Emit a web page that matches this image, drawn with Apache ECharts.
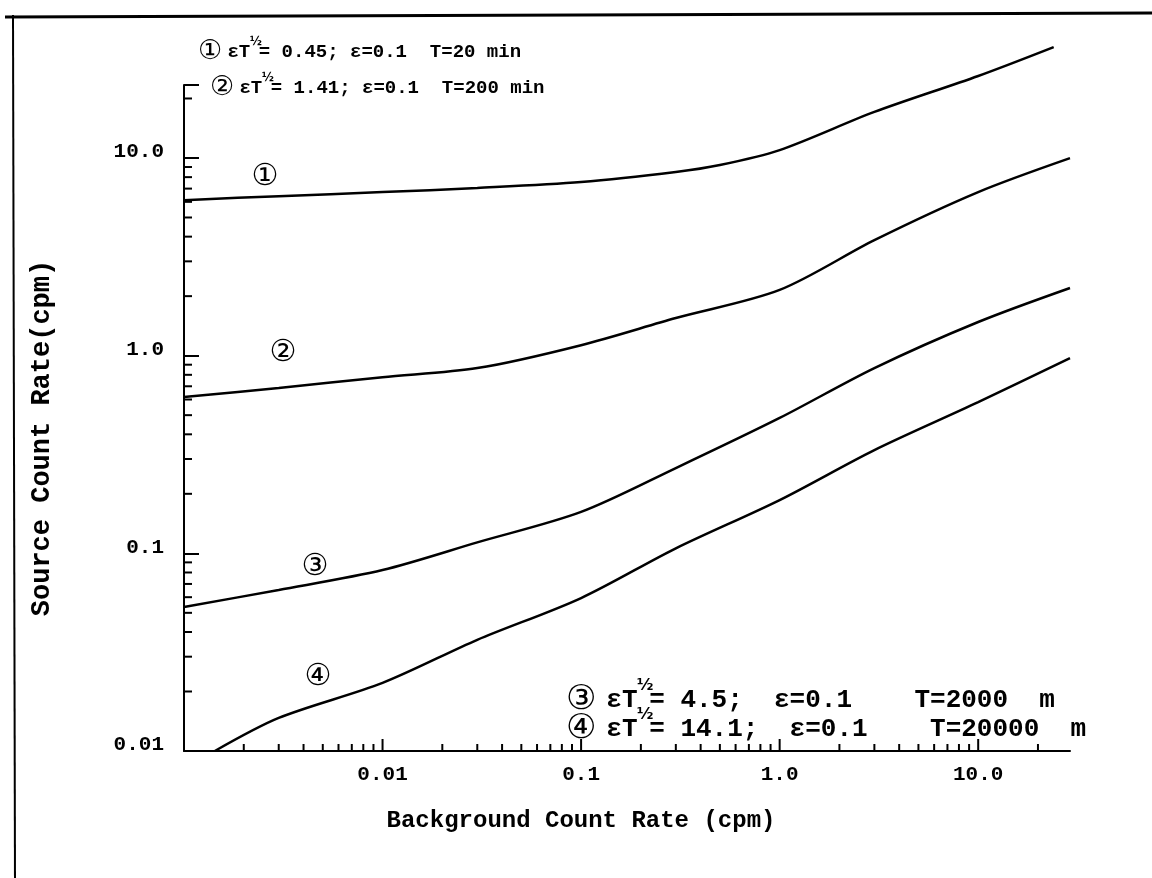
<!DOCTYPE html>
<html>
<head>
<meta charset="utf-8">
<script src="https://cdn.jsdelivr.net/npm/echarts@6/dist/echarts.min.js"></script>
<style>
html, body { margin: 0; padding: 0; background: #fff; }
#chart { width: 1152px; height: 878px; }
</style>
</head>
<body>
<div id="chart"></div>
<script>
// background count rate (cpm)
var bg1 = [0.001, 0.003, 0.01, 0.03, 0.1, 0.3, 0.5, 1, 3, 10, 24];
var src1 = [6.12, 6.41, 6.72, 7.05, 7.55, 8.49, 9.21, 10.96, 17.1, 26.0, 36.4];

var bg2 = [0.001, 0.003, 0.01, 0.03, 0.1, 0.3, 1, 3, 10, 29];
var src2 = [0.618, 0.686, 0.778, 0.865, 1.13, 1.55, 2.15, 3.84, 6.72, 9.98];

var bg3 = [0.001, 0.003, 0.01, 0.03, 0.1, 0.3, 1, 3, 10, 29];
var src3 = [0.0535, 0.0653, 0.0823, 0.1136, 0.162, 0.270, 0.484, 0.865, 1.48, 2.20];

var bg4 = [0.00143, 0.003, 0.01, 0.03, 0.1, 0.3, 1, 3, 10, 29];
var src4 = [0.01, 0.0147, 0.0221, 0.0365, 0.0594, 0.106, 0.186, 0.333, 0.582, 0.972];

var xTickValues = [0.01, 0.1, 1, 10];
var xTickLabels = ['0.01', '0.1', '1.0', '10.0'];
var yTickValues = [0.01, 0.1, 1, 10];
var yTickLabels = ['0.01', '0.1', '1.0', '10.0'];

var xMin = 0.001, xMax = 29;
var yMin = 0.01, yMax = 23.4;

// minor ticks 2..9 in every decade
function minorTicks(lo, hi) {
    var out = [];
    for (var d = lo; d < hi; d *= 10) {
        for (var m = 2; m <= 9; m++) {
            var v = m * d;
            if (v < hi) out.push(v);
        }
    }
    return out;
}
var xMinor = minorTicks(0.001, xMax);
var yMinor = minorTicks(0.01, yMax);

function pick(values, labels) {
    return function (v) {
        for (var i = 0; i < values.length; i++) {
            if (Math.abs(Math.log10(v) - Math.log10(values[i])) < 1e-6) return labels[i];
        }
        return '';
    };
}

function zip(a, b) {
    var out = [];
    for (var i = 0; i < a.length; i++) out.push([a[i], b[i]]);
    return out;
}

var mono = '"Liberation Mono", "DejaVu Sans Mono", monospace';

function curve(name, xs, ys) {
    return {
        name: name,
        type: 'line',
        data: zip(xs, ys),
        smooth: 0.3,
        symbol: 'none',
        clip: false,
        lineStyle: { color: '#000', width: 2.5 }
    };
}

// tick marks on the x axis, pointing up into the plot
function xTicks(values, len) {
    return {
        type: 'custom',
        silent: true,
        clip: false,
        data: values.map(function (v) { return [v, yMin]; }),
        renderItem: function (params, api) {
            var p = api.coord([api.value(0), yMin]);
            return { type: 'line', shape: { x1: p[0], y1: p[1], x2: p[0], y2: p[1] - len }, style: { stroke: '#000', lineWidth: 2 } };
        }
    };
}

// one typed line: circled number, "eT", raised 1/2, rest
function note(x, y, size, circ, rest) {
    return {
        type: 'group',
        x: x,
        y: y,
        children: [
            { type: 'text', x: 0, y: 0, style: { text: circ, fontFamily: '"DejaVu Sans"', fontSize: size + 8, fill: '#000', verticalAlign: 'middle' } },
            { type: 'text', x: size * 1.55, y: 0, style: { text: 'εT', fontFamily: mono, fontWeight: 'bold', fontSize: size, fill: '#000', verticalAlign: 'middle' } },
            { type: 'text', x: size * 2.72, y: -size * 0.55, style: { text: '½', fontFamily: '"DejaVu Sans"', fontWeight: 'bold', fontSize: size * 0.62, fill: '#000', verticalAlign: 'middle' } },
            { type: 'text', x: size * 3.2, y: 0, style: { text: rest, fontFamily: mono, fontWeight: 'bold', fontSize: size, fill: '#000', verticalAlign: 'middle' } }
        ]
    };
}

function label(x, y, circ) {
    return {
        type: 'text',
        x: x,
        y: y,
        style: {
            text: circ,
            fontFamily: '"DejaVu Sans"',
            fontSize: 30,
            fill: '#000',
            align: 'center',
            verticalAlign: 'middle'
        }
    };
}

var myChart = echarts.init(document.getElementById('chart'));

var option = {
    backgroundColor: '#fff',
    animation: false,
    grid: { left: 184, right: 82, top: 85, bottom: 127 },
    xAxis: {
        type: 'log',
        min: xMin,
        max: xMax,
        name: 'Background Count Rate (cpm)',
        nameLocation: 'middle',
        nameGap: 58,
        nameTextStyle: { fontFamily: mono, fontWeight: 'bold', fontSize: 24, color: '#000', padding: [0, 92, 0, 0] },
        axisLine: { lineStyle: { color: '#000', width: 2 } },
        axisTick: { show: false },
        axisLabel: {
            formatter: pick(xTickValues, xTickLabels),
            fontFamily: mono, fontWeight: 'bold', fontSize: 21, color: '#000', margin: 13
        },
        splitLine: { show: false }
    },
    yAxis: {
        type: 'log',
        min: yMin,
        max: yMax,
        name: 'Source Count Rate(cpm)',
        nameLocation: 'middle',
        nameGap: 128,
        nameTextStyle: { fontFamily: mono, fontWeight: 'bold', fontSize: 27, color: '#000', padding: [0, 40, 0, 0] },
        axisLine: { lineStyle: { color: '#000', width: 2 } },
        axisTick: { inside: true, length: 15, lineStyle: { color: '#000', width: 2 } },
        axisLabel: {
            formatter: pick(yTickValues, yTickLabels),
            fontFamily: mono, fontWeight: 'bold', fontSize: 21, color: '#000', margin: 20,
            verticalAlign: 'bottom', lineHeight: 12
        },
        splitLine: { show: false }
    },
    graphic: [
        { type: 'line', shape: { x1: 5, y1: 17, x2: 1152, y2: 13 }, style: { stroke: '#000', lineWidth: 3 } },
        { type: 'line', shape: { x1: 13, y1: 15, x2: 15, y2: 878 }, style: { stroke: '#000', lineWidth: 2 } },
        note(198, 52, 19, '①', '= 0.45; ε=0.1  T=20 min'),
        note(210, 88, 19, '②', '= 1.41; ε=0.1  T=200 min'),
        note(566, 700, 26, '③', '= 4.5;  ε=0.1    T=2000  m'),
        note(566, 729, 26, '④', '= 14.1;  ε=0.1    T=20000  m'),
        label(265, 177, '①'),
        label(283, 353, '②'),
        label(315, 567, '③'),
        label(318, 677, '④')
    ],
    series: [
        curve('1', bg1, src1),
        curve('2', bg2, src2),
        curve('3', bg3, src3),
        curve('4', bg4, src4),
        xTicks(xMinor, 7),
        xTicks(xTickValues, 12),
        {
            type: 'custom',
            silent: true,
            clip: false,
            data: yMinor.map(function (v) { return [xMin, v]; }),
            renderItem: function (params, api) {
                var p = api.coord([xMin, api.value(1)]);
                return { type: 'line', shape: { x1: p[0], y1: p[1], x2: p[0] + 8, y2: p[1] }, style: { stroke: '#000', lineWidth: 2 } };
            }
        }
    ]
};

myChart.setOption(option);
</script>
</body>
</html>
